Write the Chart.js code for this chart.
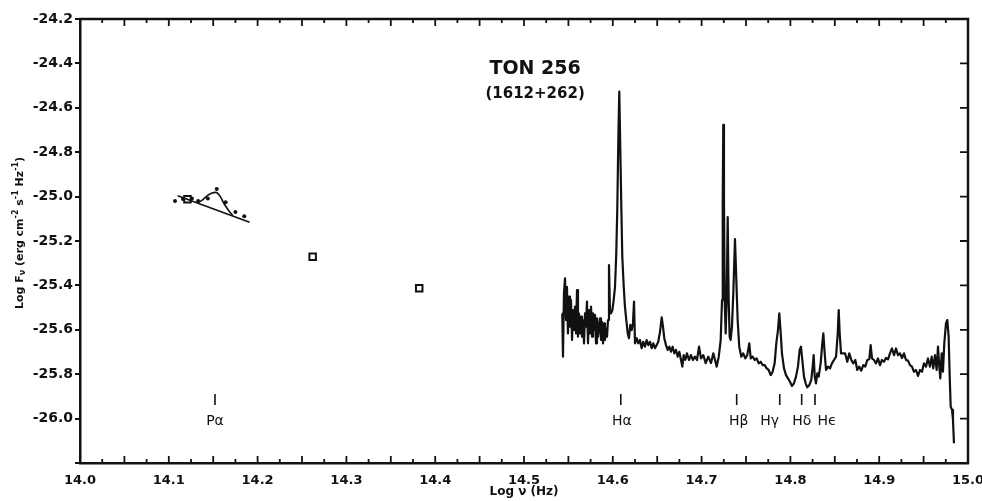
<!DOCTYPE html>
<html>
<head>
<meta charset="utf-8">
<script src="https://cdn.jsdelivr.net/npm/chart.js@4.4.0/dist/chart.umd.min.js"></script>
<style>
html, body { margin: 0; padding: 0; background: #fff; }
#khung { width: 982px; height: 501px; }
</style>
</head>
<body>
<div id="khung"><canvas id="chartTon256"></canvas></div>
<script>
// ==================== DỮ LIỆU ====================
// Phổ quang học (log nu, log F_nu)
const specNu = [
    14.5431, 14.5439, 14.5450, 14.5462, 14.5473, 14.5484, 14.5495, 14.5507, 14.5518, 14.5529,
    14.5541, 14.5552, 14.5563, 14.5574, 14.5586, 14.5597, 14.5608, 14.5619, 14.5631, 14.5642,
    14.5653, 14.5664, 14.5676, 14.5687, 14.5698, 14.5709, 14.5721, 14.5732, 14.5743, 14.5755,
    14.5766, 14.5777, 14.5788, 14.5800, 14.5811, 14.5822, 14.5833, 14.5845, 14.5856, 14.5867,
    14.5878, 14.5890, 14.5901, 14.5912, 14.5923, 14.5935, 14.5946, 14.5957, 14.5968, 14.5980,
    14.5995, 14.6010, 14.6025, 14.6039, 14.6051, 14.6062, 14.6073, 14.6084, 14.6096, 14.6107,
    14.6123, 14.6137, 14.6152, 14.6168, 14.6182, 14.6197, 14.6213, 14.6227, 14.6239, 14.6250,
    14.6269, 14.6287, 14.6306, 14.6325, 14.6343, 14.6362, 14.6381, 14.6400, 14.6419, 14.6438,
    14.6456, 14.6475, 14.6494, 14.6512, 14.6532, 14.6551, 14.6565, 14.6580, 14.6599, 14.6618,
    14.6636, 14.6655, 14.6674, 14.6693, 14.6712, 14.6731, 14.6749, 14.6768, 14.6783, 14.6798,
    14.6816, 14.6835, 14.6858, 14.6880, 14.6903, 14.6925, 14.6948, 14.6971, 14.6993, 14.7019,
    14.7046, 14.7075, 14.7106, 14.7132, 14.7151, 14.7170, 14.7193, 14.7215, 14.7230, 14.7238,
    14.7244, 14.7252, 14.7260, 14.7271, 14.7282, 14.7294, 14.7305, 14.7316, 14.7327, 14.7342,
    14.7357, 14.7376, 14.7391, 14.7406, 14.7424, 14.7447, 14.7469, 14.7492, 14.7514, 14.7537,
    14.7553, 14.7575, 14.7598, 14.7620, 14.7643, 14.7665, 14.7688, 14.7710, 14.7733, 14.7755,
    14.7778, 14.7800, 14.7823, 14.7841, 14.7860, 14.7875, 14.7891, 14.7905, 14.7928, 14.7950,
    14.7973, 14.7995, 14.8018, 14.8040, 14.8063, 14.8085, 14.8104, 14.8119, 14.8134, 14.8153,
    14.8172, 14.8190, 14.8213, 14.8235, 14.8251, 14.8262, 14.8274, 14.8288, 14.8303, 14.8319,
    14.8341, 14.8359, 14.8371, 14.8386, 14.8401, 14.8423, 14.8446, 14.8468, 14.8491, 14.8514,
    14.8533, 14.8544, 14.8555, 14.8570, 14.8615, 14.8641, 14.8663, 14.8686, 14.8708, 14.8731,
    14.8753, 14.8776, 14.8798, 14.8821, 14.8843, 14.8866, 14.8888, 14.8904, 14.8919, 14.8941,
    14.8964, 14.8986, 14.9009, 14.9031, 14.9054, 14.9076, 14.9099, 14.9121, 14.9144, 14.9167,
    14.9189, 14.9212, 14.9234, 14.9257, 14.9279, 14.9302, 14.9324, 14.9347, 14.9369, 14.9392,
    14.9414, 14.9437, 14.9459, 14.9482, 14.9504, 14.9527, 14.9549, 14.9572, 14.9591, 14.9609,
    14.9628, 14.9647, 14.9662, 14.9677, 14.9688, 14.9704, 14.9718, 14.9733, 14.9752, 14.9767,
    14.9782, 14.9794, 14.9805, 14.9820, 14.9831, 14.9842
];
const specF = [
    -25.526, -25.721, -25.436, -25.368, -25.556, -25.406, -25.616, -25.451, -25.586, -25.466,
    -25.646, -25.511, -25.601, -25.496, -25.616, -25.421, -25.631, -25.526, -25.616, -25.541,
    -25.631, -25.556, -25.661, -25.526, -25.586, -25.473, -25.661, -25.511, -25.616, -25.496,
    -25.631, -25.526, -25.601, -25.533, -25.661, -25.548, -25.631, -25.586, -25.548, -25.646,
    -25.564, -25.661, -25.571, -25.646, -25.593, -25.631, -25.556, -25.308, -25.511, -25.526,
    -25.511, -25.466, -25.406, -25.257, -25.047, -24.745, -24.527, -24.775, -25.047, -25.271,
    -25.406, -25.496, -25.556, -25.616, -25.638, -25.578, -25.601, -25.571, -25.473, -25.661,
    -25.638, -25.661, -25.646, -25.683, -25.654, -25.676, -25.646, -25.669, -25.654, -25.683,
    -25.661, -25.683, -25.669, -25.654, -25.608, -25.544, -25.586, -25.638, -25.669, -25.691,
    -25.676, -25.699, -25.676, -25.706, -25.691, -25.721, -25.699, -25.736, -25.766, -25.714,
    -25.736, -25.706, -25.736, -25.714, -25.736, -25.721, -25.736, -25.676, -25.729, -25.714,
    -25.750, -25.721, -25.750, -25.706, -25.736, -25.766, -25.721, -25.646, -25.466, -25.015,
    -24.677, -25.015, -25.466, -25.616, -25.466, -25.092, -25.466, -25.631, -25.646, -25.586,
    -25.436, -25.191, -25.376, -25.556, -25.676, -25.721, -25.706, -25.729, -25.714, -25.661,
    -25.729, -25.721, -25.736, -25.729, -25.751, -25.744, -25.759, -25.759, -25.774, -25.781,
    -25.804, -25.789, -25.750, -25.661, -25.601, -25.526, -25.616, -25.706, -25.774, -25.804,
    -25.819, -25.834, -25.853, -25.841, -25.811, -25.766, -25.691, -25.676, -25.736, -25.811,
    -25.841, -25.859, -25.849, -25.826, -25.766, -25.714, -25.811, -25.841, -25.796, -25.811,
    -25.750, -25.661, -25.616, -25.706, -25.781, -25.766, -25.774, -25.751, -25.736, -25.721,
    -25.616, -25.511, -25.616, -25.706, -25.706, -25.744, -25.706, -25.736, -25.751, -25.736,
    -25.781, -25.766, -25.784, -25.759, -25.766, -25.736, -25.733, -25.669, -25.729, -25.736,
    -25.751, -25.729, -25.759, -25.736, -25.744, -25.727, -25.733, -25.706, -25.684, -25.714,
    -25.684, -25.714, -25.706, -25.727, -25.706, -25.736, -25.739, -25.759, -25.766, -25.789,
    -25.781, -25.808, -25.781, -25.789, -25.751, -25.766, -25.729, -25.766, -25.721, -25.774,
    -25.714, -25.781, -25.676, -25.766, -25.819, -25.706, -25.789, -25.661, -25.571, -25.556,
    -25.631, -25.811, -25.946, -25.961, -26.006, -26.111
];

// Vùng P alpha: các điểm đo, đường liên tục và đường khớp
const dotNu = [14.107, 14.116, 14.126, 14.133, 14.144, 14.154, 14.164, 14.175, 14.185];
const dotF = [-25.020, -25.011, -25.009, -25.020, -25.009, -24.966, -25.026, -25.069, -25.089];
const contNu = [14.110, 14.191];
const contF = [-24.996, -25.116];
const fitNu = [14.132, 14.138, 14.143, 14.148, 14.153, 14.158, 14.162, 14.167, 14.172];
const fitF = [-25.029, -25.015, -24.997, -24.985, -24.981, -25.000, -25.030, -25.060, -25.086];

// Điểm trắc quang (ô vuông)
const photNu = [14.121, 14.262, 14.382];
const photF = [-25.012, -25.271, -25.413];

// Vạch phát xạ
const lineNames = ["Pα", "Hα", "Hβ", "Hγ", "Hδ", "Hϵ"];
const lineNu = [14.152, 14.609, 14.7395, 14.788, 14.8127, 14.8277];
const labelShift = [0, 1, 2, -10, 0, 12];

// Trục
const xTicks = { min: 14.0, max: 15.0, step: 0.1 };
const yTicks = { min: -26.2, max: -24.2, step: 0.2 };

// ==================== HÀM PHỤ ====================
const ghepDiem = (xs, ys) => xs.map((v, i) => ({ x: v, y: ys[i] }));
const MAU = "#111";
const FONT = '"DejaVu Sans", sans-serif';

function veNhanTrucY(ctx, cx, cy) {
    const parts = [
        ["Log F", 0], ["ν", 1], [" (erg cm", 0], ["-2", -1], [" s", 0],
        ["-1", -1], [" Hz", 0], ["-1", -1], [")", 0]
    ];
    const fontChinh = "bold 11px " + FONT;
    const fontNho = "bold 8px " + FONT;
    let tong = 0;
    parts.forEach(([t, k]) => { ctx.font = k ? fontNho : fontChinh; tong += ctx.measureText(t).width; });
    ctx.save();
    ctx.translate(cx, cy);
    ctx.rotate(-Math.PI / 2);
    ctx.textBaseline = "middle";
    ctx.textAlign = "left";
    let x = -tong / 2;
    parts.forEach(([t, k]) => {
        ctx.font = k ? fontNho : fontChinh;
        const dy = k === 1 ? 3 : (k === -1 ? -4 : 0);
        ctx.fillText(t, x, dy);
        x += ctx.measureText(t).width;
    });
    ctx.restore();
}

// ==================== PLUGIN KHUNG + CHÚ THÍCH ====================
const khungPlugin = {
    id: "khung",
    afterDraw(chart) {
        const { ctx, chartArea: ca, scales: { x, y } } = chart;
        ctx.save();
        ctx.strokeStyle = MAU;
        ctx.fillStyle = MAU;
        ctx.lineCap = "butt";

        // cạnh trên + cạnh phải
        ctx.lineWidth = 2.5;
        ctx.beginPath();
        ctx.moveTo(ca.left - 1, ca.top);
        ctx.lineTo(ca.right, ca.top);
        ctx.lineTo(ca.right, ca.bottom + 1);
        ctx.stroke();

        // vạch chia nhỏ trên/dưới, mỗi 0.025
        ctx.lineWidth = 1.8;
        ctx.beginPath();
        const nX = Math.round((xTicks.max - xTicks.min) / 0.025);
        for (let i = 1; i < nX; i++) {
            const px = x.getPixelForValue(xTicks.min + i * 0.025);
            const len = i % 2 === 0 ? 7 : 4;
            ctx.moveTo(px, ca.bottom);
            ctx.lineTo(px, ca.bottom - len);
            ctx.moveTo(px, ca.top);
            ctx.lineTo(px, ca.top + len);
        }
        // vạch chia bên phải
        const nY = Math.round((yTicks.max - yTicks.min) / yTicks.step);
        for (let i = 1; i < nY; i++) {
            const py = y.getPixelForValue(yTicks.min + i * yTicks.step);
            ctx.moveTo(ca.right, py);
            ctx.lineTo(ca.right - 8, py);
        }
        ctx.stroke();

        // vạch phát xạ
        ctx.lineWidth = 1.6;
        ctx.font = "14px " + FONT;
        ctx.textAlign = "center";
        ctx.textBaseline = "middle";
        ctx.beginPath();
        lineNames.forEach((ten, i) => {
            const px = x.getPixelForValue(lineNu[i]);
            ctx.moveTo(px, y.getPixelForValue(-25.889));
            ctx.lineTo(px, y.getPixelForValue(-25.939));
            ctx.fillText(ten, px + labelShift[i], y.getPixelForValue(-26.011));
        });
        ctx.stroke();

        // tiêu đề
        const cx = ca.left + 0.5125 * (ca.right - ca.left);
        ctx.font = "bold 19px " + FONT;
        ctx.fillText("TON 256", cx, 69);
        ctx.font = "bold 15px " + FONT;
        ctx.fillText("(1612+262)", cx, 94);

        // nhãn trục Y
        veNhanTrucY(ctx, 20, 233);
        ctx.restore();
    }
};

// ==================== VẼ BIỂU ĐỒ ====================
function veBieuDo() {
    new Chart(document.getElementById("chartTon256"), {
        type: "scatter",
        data: {
            datasets: [
                {
                    label: "Phổ",
                    data: ghepDiem(specNu, specF),
                    showLine: true,
                    borderColor: MAU,
                    borderWidth: 2.2,
                    borderJoinStyle: "round",
                    pointRadius: 0,
                    tension: 0
                },
                {
                    label: "Liên tục",
                    data: ghepDiem(contNu, contF),
                    showLine: true,
                    borderColor: MAU,
                    borderWidth: 1.6,
                    pointRadius: 0
                },
                {
                    label: "Khớp",
                    data: ghepDiem(fitNu, fitF),
                    showLine: true,
                    borderColor: MAU,
                    borderWidth: 1.6,
                    pointRadius: 0,
                    cubicInterpolationMode: "monotone"
                },
                {
                    label: "Điểm đo",
                    data: ghepDiem(dotNu, dotF),
                    pointRadius: 2,
                    backgroundColor: MAU,
                    borderWidth: 0
                },
                {
                    label: "Trắc quang",
                    data: ghepDiem(photNu, photF),
                    pointStyle: "rect",
                    pointRadius: 4.6,
                    backgroundColor: "#fff",
                    borderColor: MAU,
                    borderWidth: 2
                }
            ]
        },
        options: {
            responsive: true,
            maintainAspectRatio: false,
            animation: false,
            events: [],
            layout: { padding: { left: 0, right: 14, top: 19, bottom: 0 } },
            plugins: {
                legend: { display: false },
                tooltip: { enabled: false }
            },
            scales: {
                x: {
                    type: "linear",
                    min: xTicks.min,
                    max: xTicks.max,
                    afterFit: s => { s.height = 38; s.paddingLeft = 0; s.paddingRight = 0; },
                    ticks: {
                        stepSize: xTicks.step,
                        autoSkip: false,
                        maxRotation: 0,
                        padding: 2,
                        color: MAU,
                        font: { family: FONT, size: 13, weight: "bold" },
                        callback: v => v.toFixed(1)
                    },
                    grid: { display: false },
                    border: { display: true, color: MAU, width: 2.5 },
                    title: {
                        display: true,
                        text: "Log ν (Hz)",
                        color: MAU,
                        font: { family: FONT, size: 12, weight: "bold" },
                        padding: { top: 0, bottom: 2 }
                    }
                },
                y: {
                    type: "linear",
                    min: yTicks.min,
                    max: yTicks.max,
                    afterFit: s => { s.width = 80; s.paddingTop = 0; s.paddingBottom = 0; },
                    ticks: {
                        stepSize: yTicks.step,
                        padding: 2,
                        color: MAU,
                        font: { family: FONT, size: 14, weight: "bold" },
                        callback: v => (Math.abs(v - yTicks.min) < 1e-6 ? "" : v.toFixed(1))
                    },
                    grid: {
                        drawOnChartArea: false,
                        drawTicks: true,
                        tickLength: 5,
                        color: MAU,
                        lineWidth: 2
                    },
                    border: { display: true, color: MAU, width: 2.5 }
                }
            }
        },
        plugins: [khungPlugin]
    });
}

document.addEventListener("DOMContentLoaded", function () {
    veBieuDo();
});
</script>
</body>
</html>
